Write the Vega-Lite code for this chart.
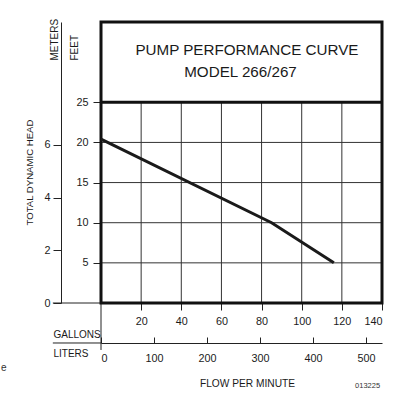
{
  "$schema": "https://vega.github.io/schema/vega-lite/v6.json",
  "width": 281,
  "height": 281,
  "autosize": {"type": "none"},
  "padding": {"left": 101, "top": 22, "right": 32, "bottom": 95},
  "background": "white",
  "config": {
    "view": {"stroke": null},
    "font": "Liberation Sans, Arial, sans-serif",
    "axis": {
      "labelFont": "Liberation Sans, Arial, sans-serif",
      "titleFont": "Liberation Sans, Arial, sans-serif",
      "titleFontWeight": "normal",
      "labelColor": "#1a1a1a",
      "titleColor": "#1a1a1a",
      "tickColor": "#222",
      "domainColor": "#222",
      "grid": false,
      "labelFontSize": 10.8,
      "titleFontSize": 10
    }
  },
  "datasets": {
    "vgrid": [{"gpm": 20}, {"gpm": 40}, {"gpm": 60}, {"gpm": 80}, {"gpm": 100}, {"gpm": 120}],
    "hgrid": [{"ft": 5}, {"ft": 10}, {"ft": 15}, {"ft": 20}],
    "curve": [{"gpm": 0, "ft": 20.4}, {"gpm": 85, "ft": 10}, {"gpm": 116, "ft": 5}],
    "ext": [
      {"gpm": -24, "gpm2": 0, "ft": 0, "ft2": 0},
      {"gpm": 0, "gpm2": 0, "ft": 0, "ft2": -5.85},
      {"gpm": -24, "gpm2": 0, "ft": -4.982, "ft2": -4.982}
    ],
    "titles": [
      {"gpm": 72.7, "ft": 30.9, "label": "PUMP PERFORMANCE CURVE"},
      {"gpm": 69.5, "ft": 28.15, "label": "MODEL 266/267"}
    ]
  },
  "layer": [
    {
      "layer": [
        {
          "data": {"name": "vgrid"},
          "mark": {"type": "rule", "color": "#333", "strokeWidth": 1},
          "encoding": {
            "x": {"field": "gpm", "type": "quantitative", "scale": {"domain": [0, 140], "nice": false}, "axis": null},
            "y": {"datum": 0, "type": "quantitative", "scale": {"domain": [0, 35], "nice": false}, "axis": null},
            "y2": {"datum": 25}
          }
        },
        {
          "data": {"name": "hgrid"},
          "mark": {"type": "rule", "color": "#333", "strokeWidth": 1},
          "encoding": {
            "y": {"field": "ft", "type": "quantitative", "scale": {"domain": [0, 35], "nice": false}, "axis": null},
            "x": {"datum": 0, "type": "quantitative", "scale": {"domain": [0, 140], "nice": false}, "axis": null},
            "x2": {"datum": 140}
          }
        },
        {
          "data": {"name": "ext"},
          "mark": {"type": "rule", "color": "#222", "strokeWidth": 1},
          "encoding": {
            "x": {"field": "gpm", "type": "quantitative", "scale": {"domain": [0, 140], "nice": false}, "axis": null},
            "x2": {"field": "gpm2"},
            "y": {"field": "ft", "type": "quantitative", "scale": {"domain": [0, 35], "nice": false}, "axis": null},
            "y2": {"field": "ft2"}
          }
        },
        {
          "data": {"values": [{"a": 1}]},
          "mark": {"type": "rect", "fill": null, "fillOpacity": 0, "stroke": "#111", "strokeWidth": 3},
          "encoding": {
            "x": {"datum": 0, "type": "quantitative", "scale": {"domain": [0, 140], "nice": false}, "axis": null},
            "x2": {"datum": 140},
            "y": {"datum": 0, "type": "quantitative", "scale": {"domain": [0, 35], "nice": false}, "axis": null},
            "y2": {"datum": 35}
          }
        },
        {
          "data": {"values": [{"a": 1}]},
          "mark": {"type": "rule", "color": "#111", "strokeWidth": 3},
          "encoding": {
            "x": {"datum": 0, "type": "quantitative", "scale": {"domain": [0, 140], "nice": false}, "axis": null},
            "x2": {"datum": 140},
            "y": {"datum": 25, "type": "quantitative", "scale": {"domain": [0, 35], "nice": false}, "axis": null}
          }
        },
        {
          "data": {"name": "curve"},
          "mark": {"type": "line", "color": "#1a1a1a", "strokeWidth": 3},
          "encoding": {
            "x": {"field": "gpm", "type": "quantitative", "scale": {"domain": [0, 140], "nice": false}, "axis": null},
            "y": {"field": "ft", "type": "quantitative", "scale": {"domain": [0, 35], "nice": false}, "axis": null}
          }
        },
        {
          "data": {"name": "titles"},
          "mark": {"type": "text", "fontSize": 15.2, "color": "#1a1a1a", "align": "center", "baseline": "alphabetic"},
          "encoding": {
            "x": {"field": "gpm", "type": "quantitative", "scale": {"domain": [0, 140], "nice": false}, "axis": null},
            "y": {"field": "ft", "type": "quantitative", "scale": {"domain": [0, 35], "nice": false}, "axis": null},
            "text": {"field": "label"}
          }
        },
        {
          "data": {"values": [{"gpm": -33.9, "ft": 16.25, "label": "TOTAL DYNAMIC HEAD"}]},
          "mark": {"type": "text", "fontSize": 9.6, "color": "#1a1a1a", "align": "center", "baseline": "alphabetic", "angle": 270},
          "encoding": {
            "x": {"field": "gpm", "type": "quantitative", "scale": {"domain": [0, 140], "nice": false}, "axis": null},
            "y": {"field": "ft", "type": "quantitative", "scale": {"domain": [0, 35], "nice": false}, "axis": null},
            "text": {"field": "label"}
          }
        },
        {
          "data": {"values": [{"gpm": 73.0, "ft": -10.46, "label": "FLOW PER MINUTE"}]},
          "mark": {"type": "text", "fontSize": 10.2, "color": "#1a1a1a", "align": "center", "baseline": "alphabetic"},
          "encoding": {
            "x": {"field": "gpm", "type": "quantitative", "scale": {"domain": [0, 140], "nice": false}, "axis": null},
            "y": {"field": "ft", "type": "quantitative", "scale": {"domain": [0, 35], "nice": false}, "axis": null},
            "text": {"field": "label"}
          }
        },
        {
          "data": {"values": [{"gpm": 132.8, "ft": -10.59, "label": "013225"}]},
          "mark": {"type": "text", "fontSize": 7.5, "color": "#333", "align": "center", "baseline": "alphabetic"},
          "encoding": {
            "x": {"field": "gpm", "type": "quantitative", "scale": {"domain": [0, 140], "nice": false}, "axis": null},
            "y": {"field": "ft", "type": "quantitative", "scale": {"domain": [0, 35], "nice": false}, "axis": null},
            "text": {"field": "label"}
          }
        },
        {
          "data": {"values": [{"gpm": -49.8, "ft": -8.47, "label": "e"}]},
          "mark": {"type": "text", "fontSize": 10, "color": "#333", "align": "left", "baseline": "alphabetic"},
          "encoding": {
            "x": {"field": "gpm", "type": "quantitative", "scale": {"domain": [0, 140], "nice": false}, "axis": null},
            "y": {"field": "ft", "type": "quantitative", "scale": {"domain": [0, 35], "nice": false}, "axis": null},
            "text": {"field": "label"}
          }
        }
      ]
    },
    {
      "data": {"values": [{"gpm": 0, "ft": 0}]},
      "mark": {"type": "point", "opacity": 0, "size": 0},
      "encoding": {
        "x": {
          "field": "gpm", "type": "quantitative",
          "scale": {"domain": [0, 140], "nice": false},
          "axis": {
            "orient": "bottom", "values": [20, 40, 60, 80, 100, 120, 140],
            "domain": false, "tickSize": 7, "labelPadding": 5,
            "title": "GALLONS", "titleX": -48, "titleY": 34,
            "titleAlign": "left", "titleBaseline": "alphabetic", "titleAnchor": null
          }
        },
        "y": {
          "field": "ft", "type": "quantitative",
          "scale": {"domain": [0, 35], "nice": false},
          "axis": {
            "orient": "left", "values": [5, 10, 15, 20, 25],
            "domain": false, "tickSize": 8, "labelPadding": 5,
            "title": "FEET", "titleX": -24, "titleY": 38, "titleAngle": -90,
            "titleAlign": "left", "titleBaseline": "alphabetic", "titleAnchor": null
          }
        }
      }
    },
    {
      "data": {"values": [{"lit": 0, "m": 0}]},
      "mark": {"type": "point", "opacity": 0, "size": 0},
      "encoding": {
        "x": {
          "field": "lit", "type": "quantitative",
          "scale": {"domain": [0, 529.96], "nice": false},
          "axis": {
            "orient": "bottom", "offset": 40, "values": [0, 100, 200, 300, 400, 500],
            "domain": true, "domainWidth": 1, "tickSize": -6, "labelPadding": 15,
            "title": "LITERS", "titleX": -48, "titleY": 13,
            "titleAlign": "left", "titleBaseline": "alphabetic", "titleAnchor": null
          }
        },
        "y": {
          "field": "m", "type": "quantitative",
          "scale": {"domain": [0, 10.668], "nice": false},
          "axis": {
            "orient": "left", "offset": 40, "values": [0, 2, 4, 6],
            "domain": true, "domainWidth": 1, "tickSize": 8, "labelPadding": 3,
            "title": "METERS", "titleX": -4, "titleY": 38, "titleAngle": -90,
            "titleAlign": "left", "titleBaseline": "alphabetic", "titleAnchor": null
          }
        }
      }
    }
  ],
  "resolve": {"scale": {"x": "independent", "y": "independent"}}
}
